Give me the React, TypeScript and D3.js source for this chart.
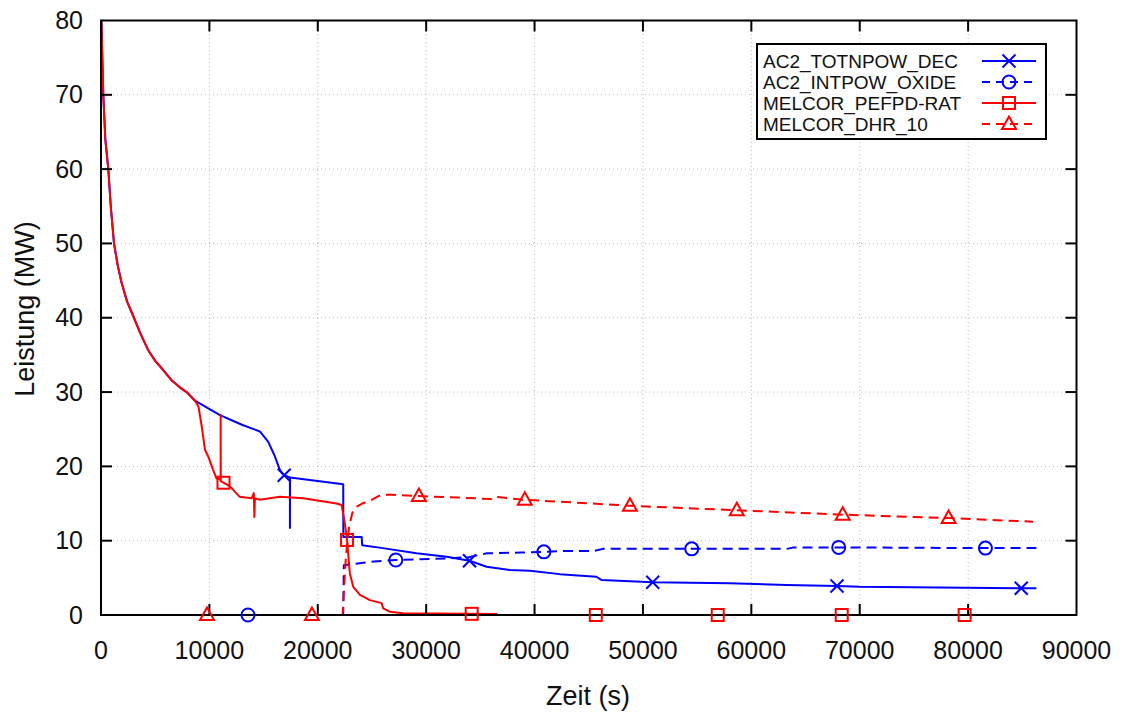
import React from "react";
import * as d3 from "d3";

type Pt = [number, number];

// Time axis (s) and power axis (MW) ticks
const xTicks = [0, 10000, 20000, 30000, 40000, 50000, 60000, 70000, 80000, 90000];
const yTicks = [0, 10, 20, 30, 40, 50, 60, 70, 80];

// Shared early decay heat curve (both codes agree here)
const earlyDecay: Pt[] = [
  [0, 82], [60, 79], [120, 75], [212, 70], [400, 64], [675, 60], [900, 55], [1200, 50],
  [1550, 47], [1900, 44.7], [2400, 42.2], [3040, 40], [3600, 38], [4330, 35.7],
  [5000, 34.2], [5720, 33.0], [6500, 31.6], [7300, 30.6], [7900, 30], [8700, 28.8],
];

const totnpowDec: Pt[] = [
  ...earlyDecay,
  [10975, 26.9], [13000, 25.6], [14660, 24.7], [15430, 23.3], [16000, 21.5], [16510, 19.5],
  [16900, 18.8], [17430, 18.5], [17430, 11.7], [17440, 18.5], [22350, 17.6], [22360, 10.5],
  [24050, 10.5], [24100, 9.4], [26000, 9.0], [29100, 8.3], [31900, 7.85], [34000, 7.3],
  [35570, 6.5], [37720, 6.05], [39560, 5.96], [42330, 5.5], [45700, 5.15], [46200, 4.7],
  [50900, 4.4], [58000, 4.26], [63250, 4.03], [67900, 3.9], [70000, 3.8], [84900, 3.6],
  [86300, 3.6],
];

const intpowOxide: Pt[] = [
  [0, 0], [22350, 0], [22400, 6.7], [25200, 7.2], [27200, 7.4], [31900, 7.6], [34000, 7.8],
  [35600, 8.3], [38700, 8.4], [40900, 8.5], [42300, 8.6], [45400, 8.6], [46300, 8.9],
  [54500, 8.9], [63300, 8.9], [63900, 9.1], [68060, 9.1], [81600, 9.0], [86300, 9.0],
];

const pefpdRat: Pt[] = [
  ...earlyDecay,
  [9000, 28.0], [9300, 25.3], [9600, 22.2], [9900, 21.3], [10350, 19.5], [10650, 18.4],
  [11040, 18.2], [11040, 26.9], [11050, 18.0], [11300, 17.8], [11900, 17.3], [12800, 15.9],
  [13900, 15.7], [14100, 16.4], [14150, 13.2], [14200, 15.7], [14660, 15.5], [16500, 15.9],
  [18660, 15.7], [21730, 15.0], [22200, 14.8], [22500, 12.3], [22700, 10.1], [22960, 5.6],
  [23270, 3.8], [23890, 2.7], [24800, 2.0], [25890, 1.6], [26030, 0.9], [26650, 0.45],
  [27870, 0.23], [36500, 0.13], [36510, 0], [86300, 0],
];

const dhr10: Pt[] = [
  [0, 0], [22300, 0], [22400, 3], [22600, 8], [22900, 12], [23200, 13.8], [23600, 14.6],
  [24100, 15.0], [24700, 15.3], [25600, 16.0], [26500, 16.2], [29330, 16.0], [33000, 15.8],
  [36000, 15.6], [36300, 15.9], [39100, 15.5], [42300, 15.25], [48800, 14.7], [58660, 14.1],
  [68430, 13.5], [78200, 13.05], [86000, 12.55],
];

// Times at which each curve carries a point symbol
const totnpowMarks = [16900, 34000, 50900, 67900, 84900];
const intpowMarks = [13560, 27200, 40860, 54500, 68060, 81600];
const pefpdMarks = [11300, 22700, 34200, 45650, 56900, 68340, 79680];
const dhrMarks = [9780, 19460, 29330, 39100, 48800, 58660, 68430, 78200];

type Sym = "cross" | "circle" | "square" | "triangle";
const seriesList: { name: string; data: Pt[]; marks: number[]; color: string; dashed: boolean; sym: Sym }[] = [
  { name: "AC2_TOTNPOW_DEC", data: totnpowDec, marks: totnpowMarks, color: "#0000ff", dashed: false, sym: "cross" },
  { name: "AC2_INTPOW_OXIDE", data: intpowOxide, marks: intpowMarks, color: "#0000ff", dashed: true, sym: "circle" },
  { name: "MELCOR_PEFPD-RAT", data: pefpdRat, marks: pefpdMarks, color: "#ff0000", dashed: false, sym: "square" },
  { name: "MELCOR_DHR_10", data: dhr10, marks: dhrMarks, color: "#ff0000", dashed: true, sym: "triangle" },
];

const W = 1121;
const H = 717;
const FONT = "'Liberation Sans', Arial, Helvetica, sans-serif";

const x = d3.scaleLinear().domain([0, 90000]).range([101, 1076.5]);
const y = d3.scaleLinear().domain([0, 80]).range([615, 20.5]);

function valueAt(data: Pt[], t: number): number {
  for (let i = 1; i < data.length; i++) {
    const [t0, v0] = data[i - 1];
    const [t1, v1] = data[i];
    if (t >= t0 && t <= t1) {
      if (t1 === t0) return v1;
      return v0 + ((t - t0) / (t1 - t0)) * (v1 - v0);
    }
  }
  return data[data.length - 1][1];
}

function Symbol({ sym, cx, cy, color }: { sym: Sym; cx: number; cy: number; color: string }) {
  const s = 6.5;
  const common = { stroke: color, strokeWidth: 2, fill: "none" };
  if (sym === "cross")
    return (
      <g {...common}>
        <line x1={cx - s} y1={cy - s} x2={cx + s} y2={cy + s} />
        <line x1={cx - s} y1={cy + s} x2={cx + s} y2={cy - s} />
      </g>
    );
  if (sym === "circle") return <circle cx={cx} cy={cy} r={6.5} {...common} />;
  if (sym === "square") return <rect x={cx - 6} y={cy - 6} width={12} height={12} {...common} />;
  return <polygon points={`${cx},${cy - 7.5} ${cx + 7},${cy + 5} ${cx - 7},${cy + 5}`} {...common} />;
}

export default function App() {
  const line = d3
    .line<Pt>()
    .x((d) => x(d[0]))
    .y((d) => y(d[1]));

  const [px0, px1] = x.range();
  const [py0, py1] = [y(0), y(80)];
  const tickLen = 11;

  const legendX = 757;
  const legendY = 44;
  const rowH = 21;

  return (
    <svg
      width={W}
      height={H}
      viewBox={`0 0 ${W} ${H}`}
      style={{ position: "absolute", left: 0, top: 0, background: "#fff" }}
      fontFamily={FONT}
    >
      <defs>
        <clipPath id="plotClip">
          <rect x={px0} y={py1} width={px1 - px0} height={py0 - py1} />
        </clipPath>
      </defs>
      <rect x={0} y={0} width={W} height={H} fill="#fff" />

      {/* grid */}
      <g stroke="#b8b8b8" strokeWidth={1} strokeDasharray="1,3">
        {xTicks.slice(1, -1).map((t) => (
          <line key={`gx${t}`} x1={x(t)} x2={x(t)} y1={py0} y2={py1} />
        ))}
        {yTicks.slice(1, -1).map((t) => (
          <line key={`gy${t}`} x1={px0} x2={px1} y1={y(t)} y2={y(t)} />
        ))}
      </g>

      {/* curves */}
      <g clipPath="url(#plotClip)" fill="none" strokeWidth={2} strokeLinejoin="round">
        {seriesList.map((s) => (
          <path
            key={s.name}
            d={line(s.data) ?? ""}
            stroke={s.color}
            strokeDasharray={s.dashed ? "10,6" : undefined}
          />
        ))}
      </g>

      {/* frame and ticks */}
      <g stroke="#000" strokeWidth={2} fill="none">
        <rect x={px0} y={py1} width={px1 - px0} height={py0 - py1} />
        {xTicks.slice(1, -1).map((t) => (
          <g key={`tx${t}`}>
            <line x1={x(t)} x2={x(t)} y1={py0} y2={py0 - tickLen} />
            <line x1={x(t)} x2={x(t)} y1={py1} y2={py1 + tickLen} />
          </g>
        ))}
        {yTicks.slice(1, -1).map((t) => (
          <g key={`ty${t}`}>
            <line x1={px0} x2={px0 + tickLen} y1={y(t)} y2={y(t)} />
            <line x1={px1} x2={px1 - tickLen} y1={y(t)} y2={y(t)} />
          </g>
        ))}
      </g>

      {/* point symbols */}
      {seriesList.map((s) =>
        s.marks.map((t) => (
          <Symbol key={`${s.name}${t}`} sym={s.sym} cx={x(t)} cy={y(valueAt(s.data, t))} color={s.color} />
        ))
      )}

      {/* tick labels */}
      <g fontSize={25} fill="#111">
        {xTicks.map((t) => (
          <text key={`lx${t}`} x={x(t)} y={659} textAnchor="middle">
            {t}
          </text>
        ))}
        {yTicks.map((t) => (
          <text key={`ly${t}`} x={83} y={y(t) + 8.5} textAnchor="end">
            {t}
          </text>
        ))}
      </g>

      {/* axis titles */}
      <text x={588} y={705} fontSize={27} textAnchor="middle" fill="#111">
        Zeit (s)
      </text>
      <text transform="translate(34,309) rotate(-90)" fontSize={27} textAnchor="middle" fill="#111">
        Leistung (MW)
      </text>

      {/* legend */}
      <g>
        <rect x={legendX} y={legendY} width={289} height={95} fill="#fff" stroke="#000" strokeWidth={2} />
        {seriesList.map((s, i) => {
          const cy = legendY + 17 + i * rowH;
          return (
            <g key={`lg${s.name}`}>
              <text x={763} y={cy + 7} fontSize={19} fill="#111">
                {s.name}
              </text>
              <line
                x1={982}
                x2={1036}
                y1={cy}
                y2={cy}
                stroke={s.color}
                strokeWidth={2}
                strokeDasharray={s.dashed ? "8,6" : undefined}
              />
              <Symbol sym={s.sym} cx={1009} cy={cy} color={s.color} />
            </g>
          );
        })}
      </g>
    </svg>
  );
}
